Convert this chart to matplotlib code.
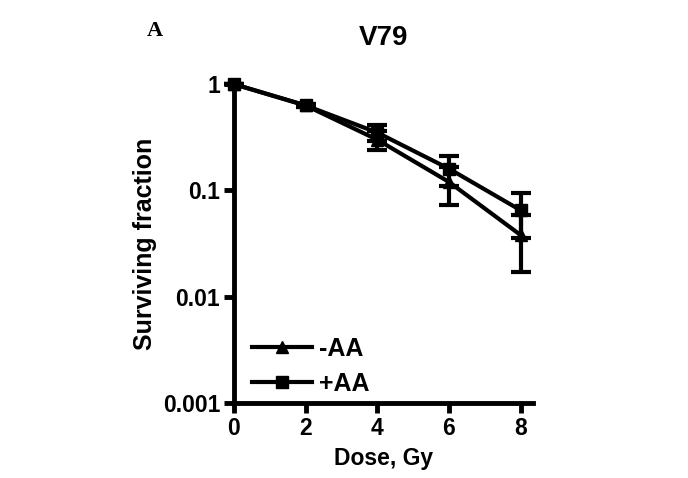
import matplotlib
matplotlib.use("Agg")
import matplotlib.pyplot as plt
from matplotlib.lines import Line2D

dose = [0, 2, 4, 6, 8]
minus_aa = [1.0, 0.63, 0.30, 0.12, 0.038]
minus_aa_err = [0.0, 0.02, 0.06, 0.047, 0.021]
plus_aa = [1.0, 0.63, 0.35, 0.16, 0.065]
plus_aa_err = [0.0, 0.02, 0.06, 0.05, 0.029]
yticks = [0.001, 0.01, 0.1, 1]
yticklabels = ["0.001", "0.01", "0.1", "1"]
xticks = [0, 2, 4, 6, 8]

plt.rcParams['font.family'] = ['Liberation Sans', 'DejaVu Sans']
fig = plt.figure(figsize=(6.88, 4.78), dpi=100)
ax = fig.add_axes([0.340, 0.157, 0.435, 0.667])

lw = 3
ax.errorbar(dose, minus_aa, yerr=minus_aa_err, color='black', lw=lw, marker='^', ms=9,
            capsize=7, capthick=lw, elinewidth=lw, clip_on=False, zorder=3)
ax.errorbar(dose, plus_aa, yerr=plus_aa_err, color='black', lw=lw, marker='s', ms=9,
            capsize=7, capthick=lw, elinewidth=lw, clip_on=False, zorder=3)

ax.set_yscale('log')
ax.set_ylim(0.001, 1)
ax.set_xlim(0, 8.35)
ax.set_yticks(yticks)
ax.set_yticklabels(yticklabels)
ax.minorticks_off()
ax.set_xticks(xticks)
for s in ['top', 'right']:
    ax.spines[s].set_visible(False)
for s in ['left', 'bottom']:
    ax.spines[s].set_linewidth(3.5)
ax.tick_params(width=3.5, length=7, labelsize=16.5, pad=3)
for lab in ax.get_xticklabels() + ax.get_yticklabels():
    lab.set_fontweight('bold')

ax.set_xlabel('Dose, Gy', fontsize=16.5, fontweight='bold', labelpad=5)
ax.set_ylabel('Surviving fraction', fontsize=18, fontweight='bold', labelpad=4)
ax.set_title('V79', fontsize=20, fontweight='bold', pad=28)

handles = [Line2D([], [], color='black', lw=lw, marker='^', ms=9),
           Line2D([], [], color='black', lw=lw, marker='s', ms=9)]
leg = ax.legend(handles, ['-AA', '+AA'], loc='lower left', frameon=False, fontsize=18,
                handlelength=2.4, borderaxespad=0.2, handletextpad=0.3, labelspacing=0.45,
                bbox_to_anchor=(0.01, -0.025))
for t in leg.get_texts():
    t.set_fontweight('bold')

fig.text(0.213, 0.925, 'A', fontsize=16, fontweight='bold', family='Liberation Serif')

fig.savefig('out.png', dpi=100)
